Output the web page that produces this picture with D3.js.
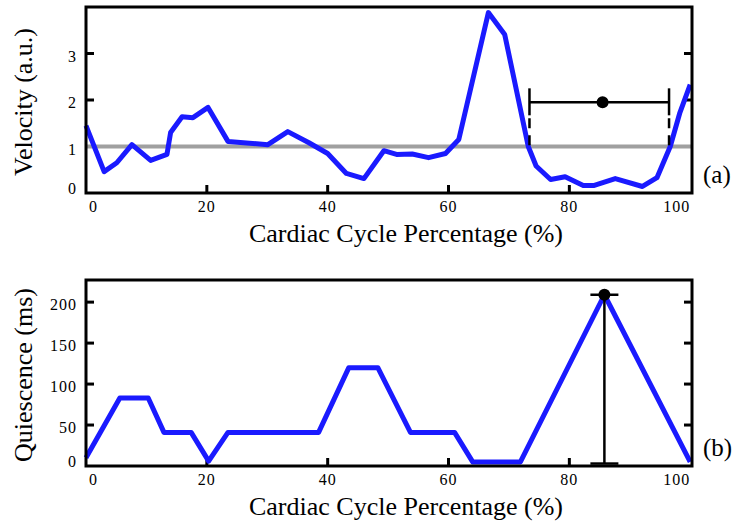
<!DOCTYPE html>
<html>
<head>
<meta charset="utf-8">
<script src="https://cdn.jsdelivr.net/npm/d3@7"></script>
<style>
  body { margin: 0; background: #fff; }
  text { font-family: "Liberation Serif", "Times New Roman", serif; fill: #000; }
</style>
</head>
<body>
<div id="chart"></div>
<script>
// cardiac cycle percentage vs velocity (panel a)
const velX = [0, 3.0, 5.1, 7.6, 10.7, 13.4, 14.0, 15.9, 17.7, 20.2, 23.5, 30.1, 33.4, 36.9, 40.0, 43.1, 46.0, 49.3, 51.4, 54.0, 56.7, 59.5, 61.7, 66.6, 69.3, 73.2, 74.5, 76.9, 79.3, 82.3, 84.0, 87.6, 92.1, 94.5, 96.7, 98.3, 100];
const velY = [1.45, 0.46, 0.65, 1.04, 0.70, 0.83, 1.30, 1.64, 1.62, 1.84, 1.11, 1.04, 1.32, 1.08, 0.85, 0.42, 0.31, 0.91, 0.83, 0.84, 0.76, 0.85, 1.15, 3.88, 3.41, 1.00, 0.58, 0.29, 0.35, 0.16, 0.16, 0.31, 0.14, 0.33, 1.00, 1.73, 2.33];
const velThreshold = 1;
const velBar = { center: 85.5, lo: 73.4, hi: 96.5, value: 1.95 };

// cardiac cycle percentage vs quiescence (panel b)
const quiX = [0, 5.6, 10.3, 12.9, 17.4, 20.3, 23.5, 38.5, 43.5, 48.3, 53.7, 61.0, 64.0, 71.9, 85.8, 100];
const quiY = [10, 83, 83, 41, 41, 6, 41, 41, 120, 120, 41, 41, 5, 5, 209, 5];
const quiBar = { x: 85.8, lo: 3, hi: 209 };

const xTicks = [0, 20, 40, 60, 80, 100];
const velTicks = [0, 1, 2, 3];
const quiTicks = [0, 50, 100, 150, 200];

const width = 733, height = 523;
const blue = "#1a1aff";

const svg = d3.select("#chart").append("svg")
  .attr("width", width)
  .attr("height", height);

const x = d3.scaleLinear().domain([0, 100.3]).range([86, 692]);

function drawPanel(top, bottom, yMax, ticks, yTitle, tag) {
  const y = d3.scaleLinear().domain([0, yMax]).range([bottom, top]);
  const g = svg.append("g");
  const [x0, x1] = x.range();

  // inward ticks on left, right and bottom
  const inner = ticks.filter(t => t > 0);
  g.selectAll(".ytl").data(inner).enter().append("line")
    .attr("x1", x0).attr("x2", x0 + 8)
    .attr("y1", d => y(d)).attr("y2", d => y(d))
    .attr("stroke", "#000").attr("stroke-width", 3);
  g.selectAll(".ytr").data(inner).enter().append("line")
    .attr("x1", x1).attr("x2", x1 - 8)
    .attr("y1", d => y(d)).attr("y2", d => y(d))
    .attr("stroke", "#000").attr("stroke-width", 3);
  g.selectAll(".xt").data(xTicks.filter(t => t > 0 && t < 100)).enter().append("line")
    .attr("x1", d => x(d)).attr("x2", d => x(d))
    .attr("y1", bottom).attr("y2", bottom - 8)
    .attr("stroke", "#000").attr("stroke-width", 3);

  // tick labels
  g.selectAll(".yl").data(ticks).enter().append("text")
    .attr("x", 77)
    .attr("y", d => d === 0 ? y(d) - 4 : y(d) + 3)
    .attr("dy", "0.32em")
    .attr("text-anchor", "end")
    .style("font-size", "16px")
    .style("letter-spacing", "1px")
    .text(d => d);
  g.selectAll(".xl").data(xTicks).enter().append("text")
    .attr("x", d => d === 0 ? x(d) + 3 : x(d))
    .attr("y", bottom + 19)
    .attr("text-anchor", d => d === 0 ? "start" : d === 100 ? "end" : "middle")
    .style("font-size", "16px")
    .style("letter-spacing", "1px")
    .text(d => d);

  // axis titles and panel tag
  g.append("text")
    .attr("x", 406).attr("y", bottom + 49)
    .attr("text-anchor", "middle")
    .style("font-size", "26px")
    .text("Cardiac Cycle Percentage (%)");
  g.append("text")
    .attr("transform", `translate(32,${(top + bottom) / 2 + 2}) rotate(-90)`)
    .attr("text-anchor", "middle")
    .style("font-size", "26px")
    .text(yTitle);
  g.append("text")
    .attr("x", 703).attr("y", bottom - 10)
    .style("font-size", "25px")
    .text(tag);

  return { g, y };
}

// panel (a)
const a = drawPanel(7, 193, 4, velTicks, "Velocity (a.u.)", "(a)");

a.g.append("line")
  .attr("x1", x(0)).attr("x2", x(100.3))
  .attr("y1", a.y(velThreshold)).attr("y2", a.y(velThreshold))
  .attr("stroke", "#a0a0a0").attr("stroke-width", 4);

a.g.append("path")
  .datum(velX.map((d, i) => [d, velY[i]]))
  .attr("fill", "none")
  .attr("stroke", blue)
  .attr("stroke-width", 5)
  .attr("stroke-linejoin", "round")
  .attr("d", d3.line().x(d => x(d[0])).y(d => a.y(d[1])));

// error bar with dashed drop to threshold
a.g.append("line")
  .attr("x1", x(velBar.lo)).attr("x2", x(velBar.hi))
  .attr("y1", a.y(velBar.value)).attr("y2", a.y(velBar.value))
  .attr("stroke", "#000").attr("stroke-width", 2.5);
[velBar.lo, velBar.hi].forEach(v => {
  a.g.append("line")
    .attr("x1", x(v)).attr("x2", x(v))
    .attr("y1", a.y(velBar.value) - 14).attr("y2", a.y(velBar.value) + 13)
    .attr("stroke", "#000").attr("stroke-width", 2.5);
  a.g.append("line")
    .attr("x1", x(v)).attr("x2", x(v))
    .attr("y1", a.y(velBar.value) + 13).attr("y2", a.y(velThreshold))
    .attr("stroke", "#000").attr("stroke-width", 2.5)
    .attr("stroke-dasharray", "0,3,10,4");
});
a.g.append("circle")
  .attr("cx", x(velBar.center)).attr("cy", a.y(velBar.value))
  .attr("r", 6).attr("fill", "#000");

// panel (b)
const b = drawPanel(280, 466, 227, quiTicks, "Quiescence (ms)", "(b)");

b.g.append("path")
  .datum(quiX.map((d, i) => [d, quiY[i]]))
  .attr("fill", "none")
  .attr("stroke", blue)
  .attr("stroke-width", 5)
  .attr("stroke-linejoin", "round")
  .attr("d", d3.line().x(d => x(d[0])).y(d => b.y(d[1])));

b.g.append("line")
  .attr("x1", x(quiBar.x)).attr("x2", x(quiBar.x))
  .attr("y1", b.y(quiBar.lo)).attr("y2", b.y(quiBar.hi))
  .attr("stroke", "#000").attr("stroke-width", 2.5);
[quiBar.lo, quiBar.hi].forEach(v => {
  b.g.append("line")
    .attr("x1", x(quiBar.x) - 14).attr("x2", x(quiBar.x) + 14)
    .attr("y1", b.y(v)).attr("y2", b.y(v))
    .attr("stroke", "#000").attr("stroke-width", 2.5);
});
b.g.append("circle")
  .attr("cx", x(quiBar.x)).attr("cy", b.y(quiBar.hi))
  .attr("r", 6).attr("fill", "#000");

// frames on top
[[7, 193], [280, 466]].forEach(([t, bt]) => {
  svg.append("rect")
    .attr("x", 86).attr("y", t)
    .attr("width", 692 - 86).attr("height", bt - t)
    .attr("fill", "none")
    .attr("stroke", "#000")
    .attr("stroke-width", 3);
});
</script>
</body>
</html>
